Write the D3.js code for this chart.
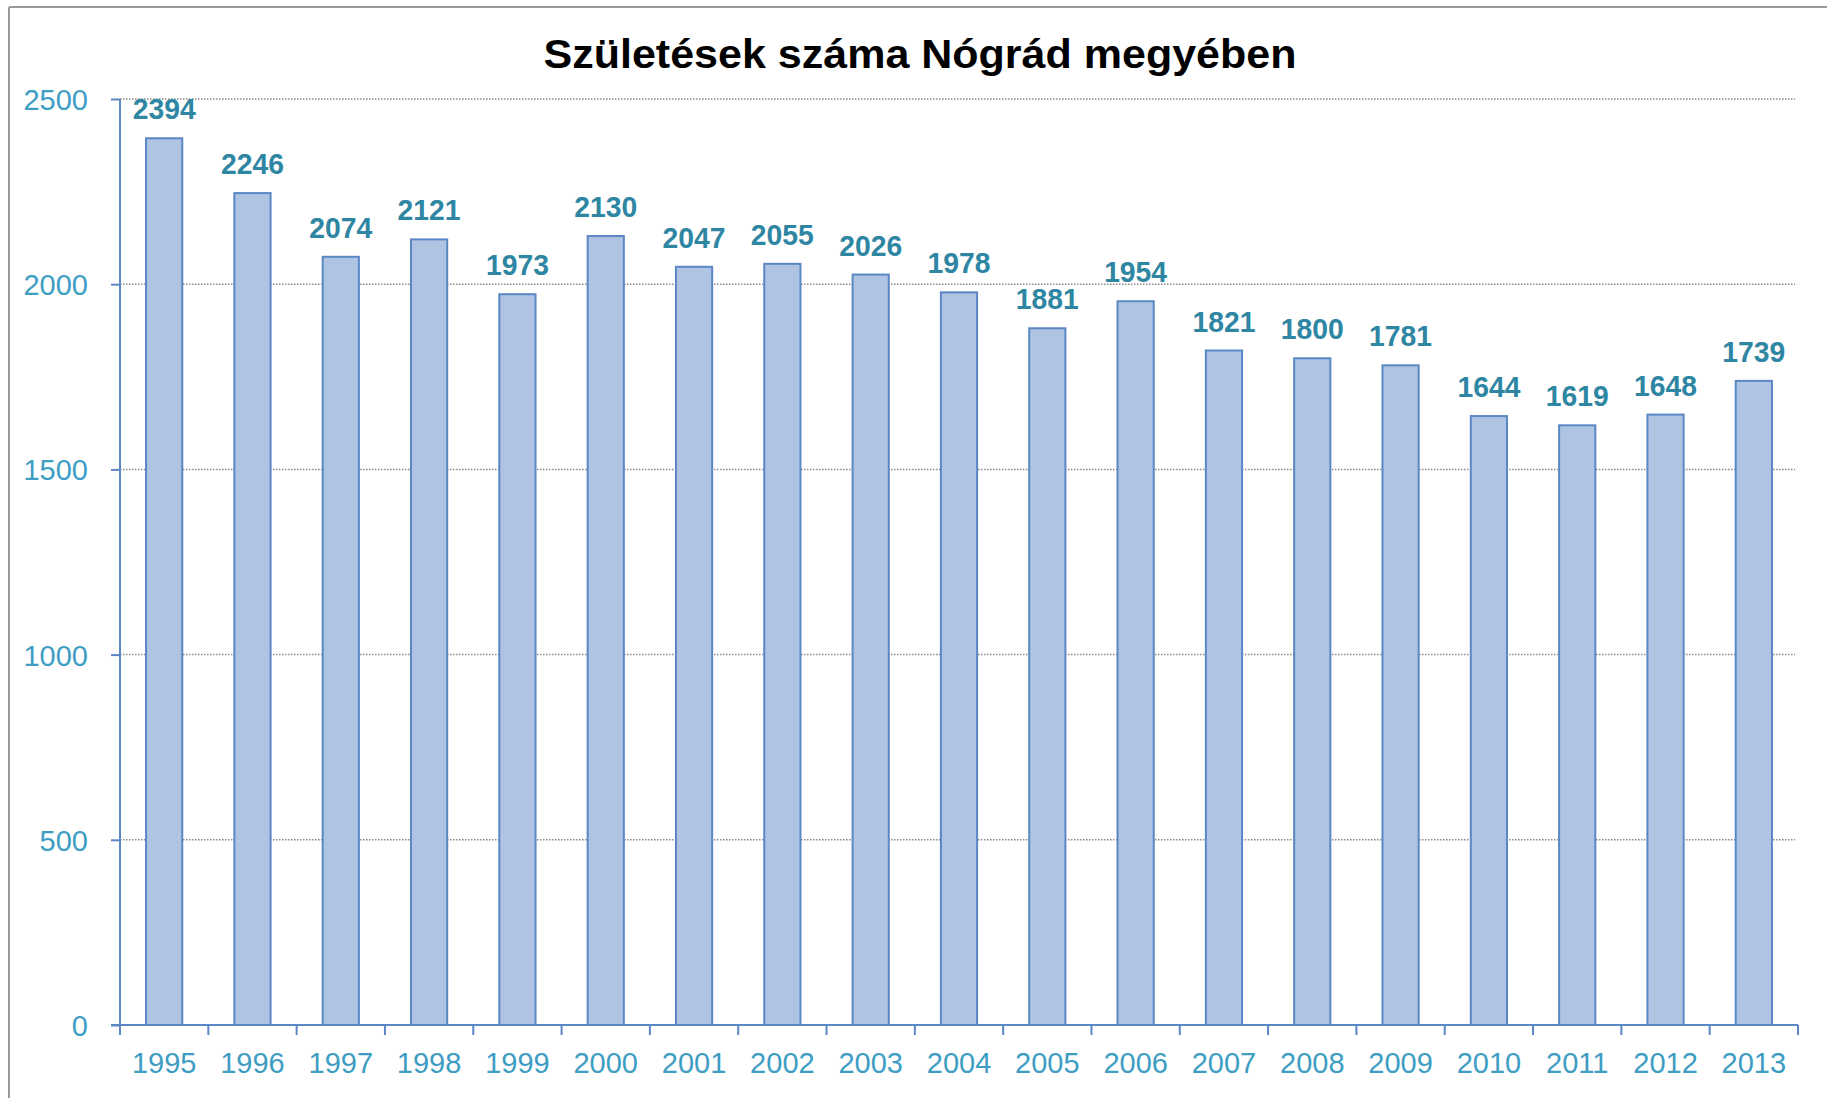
<!DOCTYPE html>
<html>
<head>
<meta charset="utf-8">
<script src="https://cdn.jsdelivr.net/npm/d3@7"></script>
<style>
  body { margin: 0; background: #fff; }
  text { font-family: "Liberation Sans", Arial, sans-serif; }
</style>
</head>
<body>
<div id="chart"></div>
<script>
const years = ["1995", "1996", "1997", "1998", "1999", "2000", "2001", "2002", "2003", "2004",
  "2005", "2006", "2007", "2008", "2009", "2010", "2011", "2012", "2013"];
const births = [2394, 2246, 2074, 2121, 1973, 2130, 2047, 2055, 2026, 1978,
  1881, 1954, 1821, 1800, 1781, 1644, 1619, 1648, 1739];
const yTicks = [0, 500, 1000, 1500, 2000, 2500];
const title = "Születések száma Nógrád megyében";

const width = 1827,
  height = 1098,
  margin = { top: 99, bottom: 73, left: 120, right: 29 },
  axisColor = "#5b87c5",
  tickLabelColor = "#3d9dc2",
  valueColor = "#2e86a3";

const data = years.map((y, i) => ({ year: y, value: births[i] }));

const svg = d3.select("#chart")
  .append("svg")
  .attr("width", width)
  .attr("height", height);

// frame (only top and left show in the original)
svg.append("line")
  .attr("x1", 9).attr("x2", width).attr("y1", 7).attr("y2", 7)
  .attr("stroke", "#9a9a9a").attr("stroke-width", 2);
svg.append("line")
  .attr("x1", 9).attr("x2", 9).attr("y1", 7).attr("y2", height)
  .attr("stroke", "#9a9a9a").attr("stroke-width", 2);

const xScale = d3.scaleBand()
  .domain(years)
  .range([margin.left, width - margin.right])
  .padding(0);

const yScale = d3.scaleLinear()
  .domain([0, 2500])
  .range([height - margin.bottom, margin.top]);

const barWidth = xScale.bandwidth() * 0.41;

// gridlines
svg.append("g")
  .selectAll("line")
  .data(yTicks.filter(d => d > 0))
  .join("line")
  .attr("x1", margin.left)
  .attr("x2", width - 32)
  .attr("y1", d => yScale(d))
  .attr("y2", d => yScale(d))
  .attr("stroke", "#8a8a8a")
  .attr("stroke-width", 1.5)
  .attr("stroke-dasharray", "1.5,1.5");

svg.append("text")
  .attr("x", 920)
  .attr("y", 68)
  .attr("text-anchor", "middle")
  .attr("font-size", 40)
  .attr("font-weight", "bold")
  .attr("fill", "#000")
  .attr("textLength", 753)
  .attr("lengthAdjust", "spacingAndGlyphs")
  .text(title);

// bars
svg.append("g")
  .selectAll("rect")
  .data(data)
  .join("rect")
  .attr("x", d => xScale(d.year) + (xScale.bandwidth() - barWidth) / 2)
  .attr("y", d => yScale(d.value))
  .attr("width", barWidth)
  .attr("height", d => yScale(0) - yScale(d.value))
  .attr("fill", "#afc4e2")
  .attr("stroke", axisColor)
  .attr("stroke-width", 2);

svg.append("g")
  .selectAll("text")
  .data(data)
  .join("text")
  .attr("x", d => xScale(d.year) + xScale.bandwidth() / 2)
  .attr("y", d => yScale(d.value) - 19)
  .attr("text-anchor", "middle")
  .attr("font-size", 30)
  .attr("font-weight", "bold")
  .attr("fill", valueColor)
  .attr("textLength", 63)
  .attr("lengthAdjust", "spacingAndGlyphs")
  .text(d => d.value);

// y axis
const yAxis = d3.axisLeft(yScale)
  .tickValues(yTicks)
  .tickFormat(d3.format("d"))
  .tickSize(9)
  .tickPadding(23);

const gy = svg.append("g")
  .attr("transform", `translate(${margin.left},0)`)
  .call(yAxis);
gy.select(".domain")
  .attr("d", `M0,${yScale(0) + 10}V${yScale(2500)}`);
gy.selectAll("path, line")
  .attr("stroke", axisColor)
  .attr("stroke-width", 2);
gy.selectAll("text")
  .attr("font-size", 29)
  .attr("font-family", "'Liberation Sans', Arial, sans-serif")
  .attr("fill", tickLabelColor)
  .attr("dy", "0.36em");

// x axis
const xAxis = d3.axisBottom(xScale)
  .tickSize(0)
  .tickPadding(0);

const gx = svg.append("g")
  .attr("transform", `translate(0,${yScale(0)})`)
  .call(xAxis);
gx.select(".domain")
  .attr("d", `M${margin.left - 9},0H${width - margin.right}`)
  .attr("stroke", axisColor)
  .attr("stroke-width", 2);
gx.selectAll("text")
  .attr("y", 48)
  .attr("dy", 0)
  .attr("font-size", 29)
  .attr("font-family", "'Liberation Sans', Arial, sans-serif")
  .attr("fill", tickLabelColor);

// ticks sit between the categories
gx.append("g")
  .selectAll("line")
  .data(years.map(y => xScale(y)).concat([xScale.range()[1]]))
  .join("line")
  .attr("x1", d => d)
  .attr("x2", d => d)
  .attr("y1", 0)
  .attr("y2", 10)
  .attr("stroke", axisColor)
  .attr("stroke-width", 2);
</script>
</body>
</html>
